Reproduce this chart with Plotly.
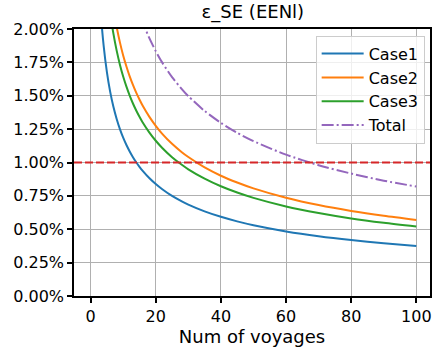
import plotly.graph_objects as go

voyages = [1, 2, 3, 4, 5, 6, 7, 8, 9, 10, 11, 12, 13, 14, 15, 16, 18, 20, 22, 25, 28, 30, 35, 40, 45, 50, 60, 70, 80, 90, 100]
case1 = [3.750, 2.652, 2.165, 1.875, 1.677, 1.531, 1.417, 1.326, 1.250, 1.186, 1.131, 1.083, 1.040, 1.002, 0.968, 0.938, 0.884, 0.839, 0.800, 0.750, 0.709, 0.685, 0.634, 0.593, 0.559, 0.530, 0.484, 0.448, 0.419, 0.395, 0.375]
case2 = [5.700, 4.031, 3.291, 2.850, 2.549, 2.327, 2.154, 2.015, 1.900, 1.802, 1.719, 1.645, 1.581, 1.523, 1.472, 1.425, 1.344, 1.275, 1.215, 1.140, 1.077, 1.041, 0.963, 0.901, 0.850, 0.806, 0.736, 0.681, 0.637, 0.601, 0.570]
case3 = [5.200, 3.677, 3.002, 2.600, 2.326, 2.123, 1.965, 1.838, 1.733, 1.644, 1.568, 1.501, 1.442, 1.390, 1.343, 1.300, 1.226, 1.163, 1.109, 1.040, 0.983, 0.949, 0.879, 0.822, 0.775, 0.735, 0.671, 0.622, 0.581, 0.548, 0.520]
total = [8.200, 5.798, 4.734, 4.100, 3.667, 3.348, 3.099, 2.899, 2.733, 2.593, 2.472, 2.367, 2.274, 2.192, 2.117, 2.050, 1.933, 1.834, 1.748, 1.640, 1.550, 1.497, 1.386, 1.297, 1.222, 1.160, 1.059, 0.980, 0.917, 0.864, 0.820]
threshold = 1.0
x_ticks = [0, 20, 40, 60, 80, 100]
y_ticks = [0, 0.25, 0.5, 0.75, 1.0, 1.25, 1.5, 1.75, 2.0]

FONT = "DejaVu Sans"
fig = go.Figure()
series = [("Case1", case1, "#1f77b4", "solid"),
          ("Case2", case2, "#ff7f0e", "solid"),
          ("Case3", case3, "#2ca02c", "solid"),
          ("Total", total, "#9467bd", "12px,3px,2px,3px")]
for name, vals, col, dash in series:
    fig.add_trace(go.Scatter(x=voyages, y=vals, name=name, mode="lines",
                             line=dict(color=col, width=2, dash=dash, shape="spline", smoothing=0.7)))

fig.add_shape(type="line", xref="paper", x0=0, x1=1, yref="y", y0=threshold, y1=threshold,
              line=dict(color="#d62728", width=2, dash="8px,3px"), layer="above")

axis_common = dict(showline=True, linecolor="black", linewidth=1.5, mirror=True,
                   ticks="outside", ticklen=5, tickwidth=1.5, tickcolor="black",
                   showgrid=True, gridcolor="#b0b0b0", gridwidth=1.2, zeroline=False,
                   tickfont=dict(family=FONT, size=16, color="black"))
fig.update_xaxes(range=[-5.1, 104.2], tickvals=x_ticks,
                 title=dict(text="Num of voyages", font=dict(family=FONT, size=18, color="black"), standoff=4),
                 **axis_common)
fig.update_yaxes(range=[0, 2.0], tickvals=y_ticks, ticktext=[f"{v:.2f}%" for v in y_ticks], **axis_common)

fig.update_layout(
    width=433, height=351,
    margin=dict(l=74, r=1, t=29, b=55),
    paper_bgcolor="white", plot_bgcolor="white",
    font=dict(family=FONT, size=16, color="black"),
    title=dict(text="ε_SE (EENl)", x=0.584, xanchor="center", y=0.985, yanchor="top",
               font=dict(family=FONT, size=18, color="black")),
    legend=dict(x=0.985, xanchor="right", y=0.975, yanchor="top", itemwidth=42,
                bgcolor="rgba(255,255,255,0.8)", bordercolor="#cccccc", borderwidth=1,
                font=dict(family=FONT, size=16, color="black"), tracegroupgap=0),
    showlegend=True,
)
fig.write_html("out.html", config={"displayModeBar": False},
               post_script="document.body.style.margin='0';document.body.style.padding='0';")
